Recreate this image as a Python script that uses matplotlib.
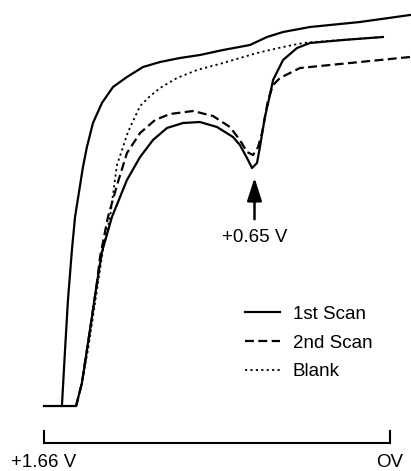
import matplotlib
matplotlib.use("Agg")
import matplotlib.pyplot as plt

plt.rcParams['font.family'] = ['Liberation Sans', 'DejaVu Sans']

# potential (V) and current (arbitrary units)
scan1_fwd_v = [1.660, 1.574, 1.559, 1.545, 1.526, 1.511, 1.473, 1.454, 1.425, 1.382, 1.329,
               1.262, 1.185, 1.103, 1.008, 0.912, 0.801, 0.672, 0.590, 0.513, 0.384,
               0.144, -0.096]
scan1_fwd_i = [0, 0, 56, 106, 156, 189, 239, 259, 283, 303, 319,
               329, 339, 344, 348, 351, 356, 361, 369, 374, 379,
               384, 391]

scan1_rev_v = [1.574, 1.506, 1.478, 1.454, 1.430, 1.406, 1.382, 1.334, 1.262, 1.199, 1.137,
               1.070, 0.993, 0.912, 0.830, 0.753, 0.720, 0.686, 0.662, 0.638, 0.624,
               0.600, 0.576, 0.561, 0.513, 0.446, 0.384, 0.225, 0.034]
scan1_rev_i = [0, 0, 23, 56, 89, 123, 154, 189, 226, 249, 266,
               278, 283, 284, 279, 269, 261, 248, 238, 243, 259,
               289, 311, 326, 346, 358, 363, 366, 369]

scan2_v = [1.506, 1.478, 1.454, 1.430, 1.406, 1.391, 1.353, 1.305, 1.262, 1.199, 1.127,
           1.056, 0.945, 0.849, 0.768, 0.720, 0.686, 0.657, 0.633, 0.614, 0.600,
           0.585, 0.561, 0.528, 0.432, 0.144, -0.096]
scan2_i = [0, 23, 56, 89, 123, 149, 189, 224, 253, 273, 286,
           292, 295, 290, 279, 266, 254, 251, 259, 273, 289,
           306, 321, 328, 338, 344, 349]

blank_v = [1.506, 1.478, 1.449, 1.425, 1.401, 1.377, 1.343, 1.310, 1.281, 1.257, 1.199,
           1.151, 1.103, 1.022, 0.926, 0.801, 0.638, 0.513, 0.417, 0.302, 0.034]
blank_i = [0, 23, 56, 89, 123, 156, 189, 241, 259, 274, 300,
           310, 318, 328, 336, 343, 353, 359, 363, 365, 369]

peak_v = 0.65
x_ticks = [1.66, 0]
x_labels = ["+1.66 V", "OV"]

fig = plt.figure(figsize=(4.11, 4.71), dpi=100)
ax = fig.add_axes([0, 0.0594, 1, 0.9406])

lw = 1.6
kw = dict(color="black", solid_joinstyle="round", dash_joinstyle="round")
ax.plot(scan1_fwd_v, scan1_fwd_i, lw=lw, label="1st Scan", **kw)
ax.plot(scan1_rev_v, scan1_rev_i, lw=lw, **kw)
ax.plot(scan2_v, scan2_i, lw=lw, linestyle=(0, (4, 2)), label="2nd Scan", **kw)
ax.plot(blank_v, blank_i, lw=1.3, linestyle=(0, (1.2, 1.8)), label="Blank", **kw)

ax.annotate("", xy=(peak_v, 231), xytext=(peak_v, 184),
            arrowprops=dict(arrowstyle="-|>,head_length=1.4,head_width=0.45",
                            lw=1.8, color="black"))
ax.text(peak_v, 169, "+0.65 V", ha="center", va="center", fontsize=13.5)

ax.set_xlim(1.871, -0.1008)
ax.set_ylim(-37, 406)

for s in ["left", "top", "right"]:
    ax.spines[s].set_visible(False)
ax.spines["bottom"].set_bounds(0, 1.66)
ax.spines["bottom"].set_linewidth(1.5)
ax.set_yticks([])
ax.set_xticks(x_ticks)
ax.set_xticklabels(x_labels, fontsize=13.5)
ax.tick_params(axis="x", direction="in", length=9.4, width=1.5, pad=8)

fig.legend(loc="center left", bbox_to_anchor=(245 / 411, 1 - 343 / 471),
           frameon=False, fontsize=13.5, handlelength=1.85, handletextpad=0.7,
           labelspacing=0.63, borderpad=0, borderaxespad=0)

fig.savefig("out.png", dpi=100)
